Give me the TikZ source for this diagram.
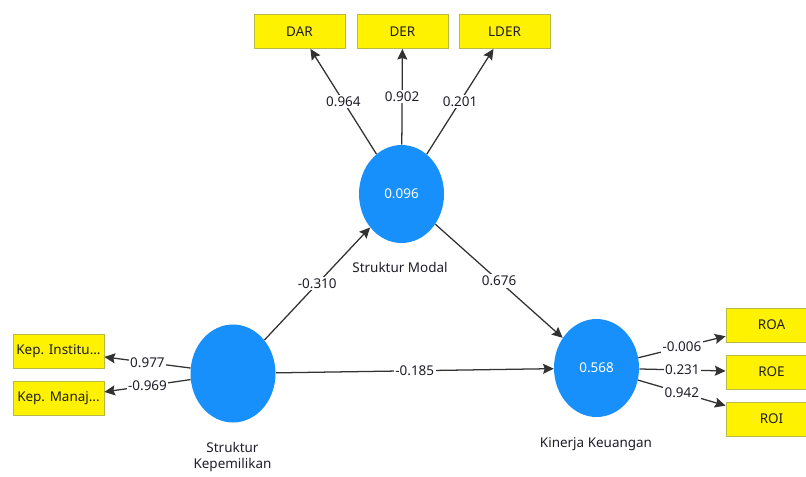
\documentclass[tikz,border=0pt]{standalone}
\usepackage{fontspec}
\setmainfont{Noto Sans}
\usetikzlibrary{arrows.meta,shapes.geometric}
\definecolor{lvblue}{RGB}{24,144,252}
\definecolor{boxedge}{RGB}{185,185,70}
\definecolor{linegray}{RGB}{50,50,50}
\definecolor{txtgray}{RGB}{30,30,40}
\begin{document}
\begin{tikzpicture}[x=0.75pt,y=-0.75pt,
  every node/.style={font=\fontsize{10.1}{12}\selectfont},
  lv/.style={ellipse, fill=lvblue, minimum width=63.75pt, minimum height=73.5pt, inner sep=0pt, text=white},
  ind/.style={rectangle, fill=yellow, draw=boxedge, line width=0.6pt, minimum width=68.25pt, minimum height=25.5pt, inner sep=0pt, text=txtgray},
  pth/.style={draw=linegray, line width=0.95pt, -{Stealth[length=8pt,width=7.5pt,inset=1.2pt]}},
  wl/.style={fill=white, inner sep=1.2pt, text=txtgray},
  lbl/.style={text=txtgray, inner sep=0pt}]
\useasboundingbox (0,0) rectangle (806,476);
\fill[white] (0,0) rectangle (806,476);
% latent variables
\node[lv] (sm) at (401.5,194) {0.096};
\node[lv] (sk) at (233,373.5) {};
\node[lv] (kk) at (596.5,368) {0.568};
% indicators
\node[ind] (dar) at (299.5,31.5) {DAR};
\node[ind] (der) at (402.5,31.5) {DER};
\node[ind] (lder) at (504.5,31.5) {LDER};
\node[ind] (ki) at (58.5,351) {Kep. Institu...};
\node[ind] (km) at (58.5,398.5) {Kep. Manaj...};
\node[ind] (roa) at (771.5,325) {ROA};
\node[ind] (roe) at (771.5,372) {ROE};
\node[ind] (roi) at (771.5,419) {ROI};
% names
\node[lbl] (smlab) at (400,267) {Struktur Modal};
\node[lbl, align=center] (sklab) at (232.5,457) {Struktur\\[0.5pt]Kepemilikan};
\node[lbl] (kklab) at (596,444) {Kinerja Keuangan};
% outer model
\draw[pth] (sm) -- node[wl]{0.964} (dar);
\draw[pth] (sm) -- node[wl]{0.902} (der);
\draw[pth] (sm) -- node[wl]{0.201} (lder);
\draw[pth] (sk) -- node[wl]{0.977} (ki);
\draw[pth] (sk) -- node[wl]{-0.969} (km);
\draw[pth] (kk) -- node[wl]{-0.006} (roa);
\draw[pth] (kk) -- node[wl]{0.231} (roe);
\draw[pth] (kk) -- node[wl]{0.942} (roi);
% inner model
\draw[pth] (sk) -- node[wl]{-0.310} (sm);
\draw[pth] (sk) -- node[wl]{-0.185} (kk);
\draw[pth] (sm) -- node[wl]{0.676} (kk);
\end{tikzpicture}
\end{document}
